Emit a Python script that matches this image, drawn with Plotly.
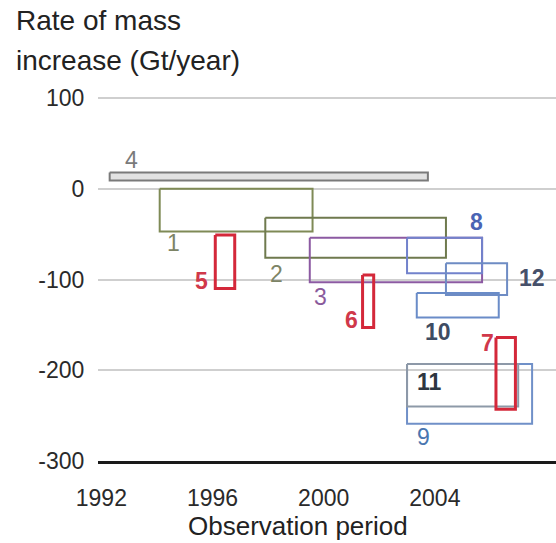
import plotly.graph_objects as go

# Estimates of ice-sheet mass change: observation window (years) and rate range (Gt/year)
study_ids = ["1", "2", "3", "4", "5", "6", "7", "8", "9", "10", "11", "12"]
period_start = [1994.1, 1997.9, 1999.5, 1992.3, 1996.1, 2001.4, 2006.2, 2003.0, 2003.0, 2003.35, 2003.0, 2004.4]
period_end = [1999.6, 2004.4, 2005.7, 2003.75, 1996.8, 2001.8, 2006.9, 2005.7, 2007.5, 2006.3, 2007.0, 2006.6]
rate_high = [0, -32, -54, 18, -51, -95, -164, -54, -193, -115, -193, -82]
rate_low = [-47, -76, -103, 9, -110, -153, -243, -93, -259, -142, -240, -117]

y_ticks = [100, 0, -100, -200, -300]
x_ticks = [1992, 1996, 2000, 2004]

FONT = "Liberation Sans, Arial, Helvetica, sans-serif"

# line colour, line width, fill, label colour, label bold
style = {
    "1": ("#7f8a56", 2, "rgba(0,0,0,0)", "#7d8466", False),
    "2": ("#6f7a4e", 2, "rgba(0,0,0,0)", "#7d8466", False),
    "3": ("#8c5aa2", 2, "rgba(0,0,0,0)", "#8a5a9c", False),
    "4": ("#7a7a7a", 2, "#e2e2e2", "#7a7a7a", False),
    "5": ("#d4283a", 3, "rgba(0,0,0,0)", "#d0384a", True),
    "6": ("#d4283a", 3, "rgba(0,0,0,0)", "#d0384a", True),
    "7": ("#d4283a", 3, "rgba(0,0,0,0)", "#d0384a", True),
    "8": ("#7282cc", 2, "rgba(0,0,0,0)", "#4a64b4", True),
    "9": ("#7090c8", 2, "rgba(0,0,0,0)", "#4a76b0", False),
    "10": ("#6a8cc8", 2, "rgba(0,0,0,0)", "#3e4c62", True),
    "11": ("#8d99a8", 2, "rgba(0,0,0,0)", "#2e3640", True),
    "12": ("#6e8cc4", 2, "rgba(0,0,0,0)", "#46506a", True),
}

# where each study number sits (data coordinates)
label_x = {"1": 1994.6, "2": 1998.3, "3": 1999.9, "4": 1993.1, "5": 1995.6, "6": 2001.0,
           "7": 2005.9, "8": 2005.5, "9": 2003.6, "10": 2004.1, "11": 2003.8, "12": 2007.5}
label_y = {"1": -60, "2": -94, "3": -119, "4": 32, "5": -102, "6": -145,
           "7": -170, "8": -37, "9": -274, "10": -158, "11": -213, "12": -98}

draw_order = ["4", "1", "2", "3", "8", "12", "10", "9", "11", "5", "6", "7"]

fig = go.Figure()
for sid in draw_order:
    i = study_ids.index(sid)
    x0, x1 = period_start[i], period_end[i]
    y0, y1 = rate_low[i], rate_high[i]
    col, lw, fill, _, _ = style[sid]
    fig.add_trace(go.Scatter(
        x=[x0, x1, x1, x0, x0], y=[y1, y1, y0, y0, y1],
        mode="lines", line=dict(color=col, width=lw),
        fill="toself", fillcolor=fill,
        hoverinfo="skip", showlegend=False,
    ))

for sid in study_ids:
    _, _, _, tcol, bold = style[sid]
    txt = f"<b>{sid}</b>" if bold else sid
    fig.add_annotation(x=label_x[sid], y=label_y[sid], text=txt, showarrow=False,
                       font=dict(family=FONT, size=23, color=tcol),
                       xanchor="center", yanchor="middle")

# axis titles
fig.add_annotation(xref="paper", yref="paper", x=-0.183, y=1.20, text="Rate of mass",
                   showarrow=False, xanchor="left", yanchor="middle",
                   font=dict(family=FONT, size=28, color="#222222"))
fig.add_annotation(xref="paper", yref="paper", x=-0.183, y=1.09, text="increase (Gt/year)",
                   showarrow=False, xanchor="left", yanchor="middle",
                   font=dict(family=FONT, size=28, color="#222222"))
fig.add_annotation(xref="paper", yref="paper", x=0.437, y=-0.176, text="Observation period",
                   showarrow=False, xanchor="center", yanchor="middle",
                   font=dict(family=FONT, size=26, color="#222222"))

fig.update_layout(
    width=556, height=543,
    margin=dict(l=98, r=0, t=94, b=82),
    paper_bgcolor="white", plot_bgcolor="white",
    font=dict(family=FONT, size=23, color="#222222"),
)
fig.update_xaxes(
    range=[1991.88, 2008.36], tickvals=x_ticks, ticktext=[str(v) for v in x_ticks],
    showgrid=False, zeroline=False,
    showline=True, linecolor="#1a1a1a", linewidth=3,
    ticks="outside", ticklen=14, tickcolor="rgba(0,0,0,0)",
    tickfont=dict(family=FONT, size=23, color="#2a2a2a"),
)
fig.update_yaxes(
    range=[-300, 104.4], tickvals=y_ticks, ticktext=[str(v) for v in y_ticks],
    showgrid=True, gridcolor="#cfcfcf", gridwidth=1.5, zeroline=False,
    showline=False,
    ticks="outside", ticklen=8, tickcolor="rgba(0,0,0,0)",
    tickfont=dict(family=FONT, size=23, color="#2a2a2a"),
)

fig.write_html("out.html")
